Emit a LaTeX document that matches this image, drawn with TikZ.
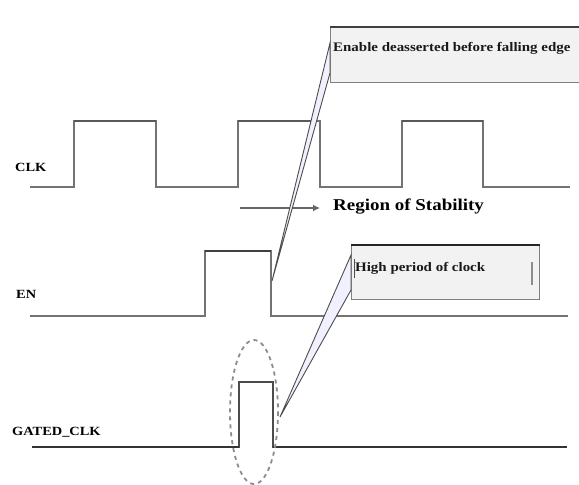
\documentclass[tikz,border=0pt]{standalone}
\usepackage{fontspec}
\usetikzlibrary{arrows.meta}
\setmainfont{Liberation Serif}[FakeStretch=1.15]
\begin{document}
\begin{tikzpicture}[x=1pt,y=-1pt,
  wave/.style={draw=black!55,line width=1.4pt,line join=miter},
  hightop/.style={draw=black!65,line width=2.8pt},
  sig/.style={font=\bfseries\fontsize{12.5}{14}\selectfont,anchor=west,inner sep=0pt},
  callout/.style={draw=black!50,line width=0.8pt,fill=blue!4!black!5!white},
  tipwedge/.style={draw=black!70,line width=0.9pt,fill=blue!6!white,line join=miter},
  boxtext/.style={font=\bfseries\fontsize{13}{15}\selectfont,anchor=west,inner sep=0pt,text=black!90}]
\useasboundingbox (0,0) rectangle (579,485);
\fill[white] (0,0) rectangle (579,485);

% labels
\node[sig] (lclk) at (15,167) {CLK};
\node[sig] (len) at (16,294) {EN};
\node[sig] (lgated) at (12,432) {GATED\_CLK};

% CLK waveform
\draw[wave] (30,187) -- (74,187) -- (74,121) -- (156,121) -- (156,187) -- (238,187) -- (238,121) -- (320,121) -- (320,187) -- (402,187) -- (402,121) -- (483,121) -- (483,187) -- (570,187);
\draw[hightop] (74,121) -- (156,121);
\draw[hightop] (238,121) -- (312,121);
\draw[hightop] (402,121) -- (483,121);

% EN waveform
\draw[wave] (30,316) -- (205,316) -- (205,251) -- (271,251) -- (271,316) -- (568,316);
\draw[hightop,draw=black!75] (205,251) -- (271,251);

% GATED_CLK waveform
\draw[wave,draw=black!70] (32,447) -- (239,447) -- (239,382) -- (273,382) -- (273,447) -- (567,447);
\draw[draw=black!80,line width=2pt] (32,447) -- (239,447);
\draw[draw=black!80,line width=2pt] (273,447) -- (567,447);

% dashed ellipse
\draw[black!45,line width=1.8pt,dash pattern=on 4pt off 4pt] (254,412) ellipse [x radius=24,y radius=72];

% Region of stability arrow
\coordinate (rs0) at (240,208);
\node[font=\bfseries\fontsize{16.5}{18}\selectfont,anchor=west,inner sep=0pt] (region) at (333,207) {Region of Stability};
\draw[black!60,line width=2pt,-{Latex[length=7pt,width=7pt]}] (rs0) -- (320,208);

% callout 1
\node[callout,anchor=north west,minimum width=260pt,minimum height=55pt,inner sep=0pt] (box1) at (330,27) {};
\draw[black!75,line width=2.2pt] (box1.north west) -- (box1.north east);
\coordinate (tip1) at (272,281);
\filldraw[tipwedge] (330,43) -- (tip1) -- (330,73) -- cycle;
\node[boxtext] (t1) at (333,48) {Enable deasserted before falling edge};

% callout 2
\node[callout,anchor=north west,minimum width=188pt,minimum height=54pt,inner sep=0pt] (box2) at (351,245) {};
\draw[black!85,line width=2.6pt] (box2.north west) -- (box2.north east);
\coordinate (tip2) at (280,417);
\filldraw[tipwedge] (351,255) -- (tip2) -- (351,290) -- cycle;
\node[boxtext] (t2) at (355,268) {High period of clock};
\draw[black!45,line width=1.5pt] (532,262) -- (532,285);
\draw[black!70,line width=0.8pt] (354,259) -- (354,278);
\end{tikzpicture}
\end{document}
